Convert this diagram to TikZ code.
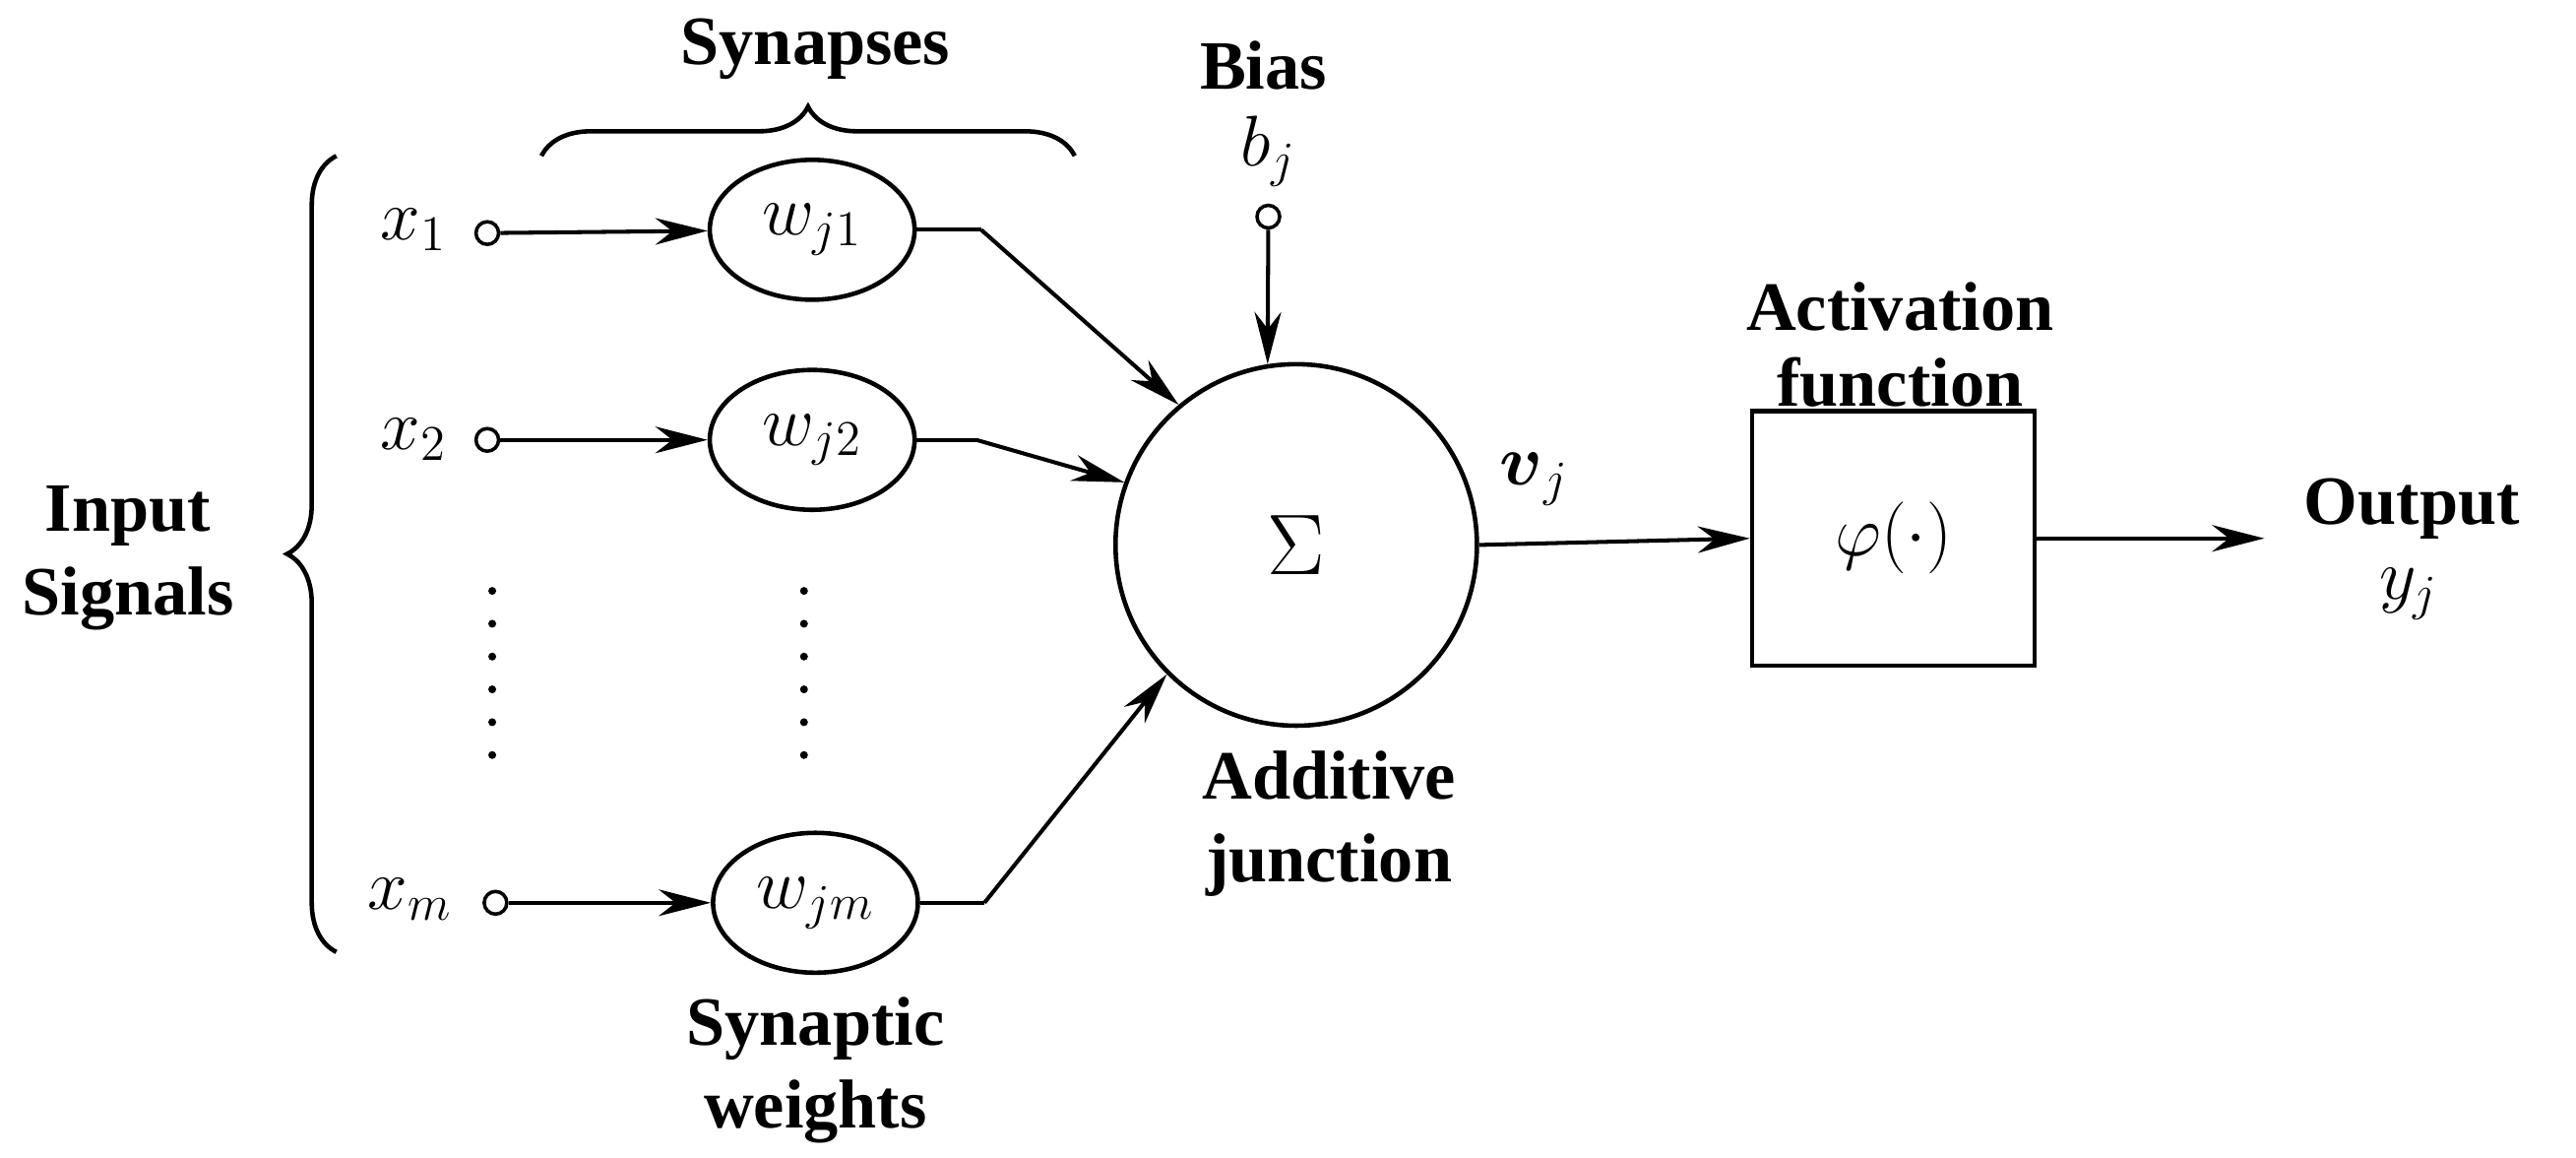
\documentclass[tikz,border=0pt]{standalone}
\usepackage{fontspec}
\setmainfont{Liberation Serif}
\usepackage{amsmath}
\usetikzlibrary{decorations.pathreplacing,arrows.meta,shapes.geometric}
\begin{document}
\begin{tikzpicture}[x=0.016667cm,y=-0.016667cm,
  lbl/.style={font=\fontsize{20}{24}\selectfont\bfseries,align=center},
  mth/.style={font=\fontsize{21}{24}\selectfont},
  port/.style={circle,draw,inner sep=0pt,minimum size=0.23cm,line width=1pt},
  wt/.style={ellipse,draw,line width=1.3pt,minimum width=2.08cm,minimum height=1.42cm,inner sep=0pt,font=\fontsize{21}{24}\selectfont},
  arr/.style={-{Stealth[length=0.53cm,width=0.27cm]},line width=1.15pt},
  ln/.style={line width=1.15pt},
  brc/.style={decorate,decoration={brace,amplitude=0.5cm},line width=1.3pt}]
\useasboundingbox (0,0) rectangle (1570,705.5);
% input brace
\draw[brc] (205,580) -- (205,95);
\node[lbl] (inp) at (78,340) {Input\\Signals};
% synapses brace
\draw[brc] (330,95) -- (655,95);
\node[lbl] (syn) at (497,30) {Synapses};
% inputs
\node[mth] (x1) at (252,140) {$x_1$};
\node[mth] (x2) at (252,268) {$x_2$};
\node[mth] (xm) at (250,548) {$x_m$};
\node[port] (p1) at (297,142) {};
\node[port] (p2) at (297,268) {};
\node[port] (pm) at (302,550) {};
\node[wt] (w1) at (495,140) {$w_{j1}$};
\node[wt] (w2) at (495,268) {$w_{j2}$};
\node[wt] (wm) at (497,550) {$w_{jm}$};
\draw[arr] (p1) -- (w1);
\draw[arr] (p2) -- (w2);
\draw[arr] (pm) -- (wm);
% dots
\foreach \yy in {360,380,...,460}{
  \fill (300,\yy) circle (0.04cm);
  \fill (490,\yy) circle (0.04cm);
}
% summation
\node[circle,draw,line width=1.3pt,minimum size=3.67cm,inner sep=0pt,font=\fontsize{42}{44}\selectfont] (sum) at (790,332) {$\Sigma$};
\coordinate (k1) at (598,140);
\coordinate (k2) at (595,268);
\coordinate (km) at (600,550);
\draw[ln] (w1.east) -- (k1);
\draw[arr] (k1) -- (sum.130);
\draw[ln] (w2.east) -- (k2);
\draw[arr] (k2) -- (sum.160);
\draw[ln] (wm.east) -- (km);
\draw[arr] (km) -- (sum.225);
% bias
\node[lbl] (bias) at (770,40) {Bias};
\node[mth] (bj) at (773,92) {$b_j$};
\node[port] (pb) at (773,132) {};
\draw[arr] (pb) -- (sum.99);
% activation
\node[draw,line width=1.3pt,minimum width=2.87cm,minimum height=2.58cm,inner sep=0pt,font=\fontsize{21}{24}\selectfont] (act) at (1154,328) {$\varphi(\cdot)$};
\draw[arr] (sum.east) -- (act.west);
\node[mth] (vj) at (935,292) {$\boldsymbol{v}_j$};
\node[lbl,font=\fontsize{20}{22}\selectfont\bfseries] (actl) at (1158,210) {Activation\\function};
\coordinate (out) at (1380,328);
\draw[arr] (act.east) -- (out);
\node[lbl] (outl) at (1470,310) {Output};
\node[mth] (yj) at (1468,362) {$y_j$};
\node[lbl] (add) at (810,502) {Additive\\junction};
\node[lbl] (sw) at (497,652) {Synaptic\\weights};
\end{tikzpicture}
\end{document}
